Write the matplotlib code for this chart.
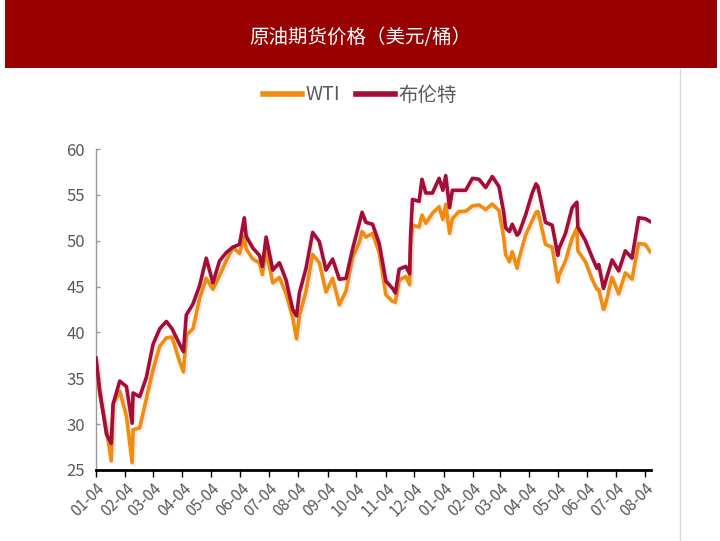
import numpy as np
import pandas as pd
import matplotlib
matplotlib.use("Agg")
import matplotlib.pyplot as plt
import matplotlib.dates as mdates
import matplotlib.patheffects as pe
from matplotlib.patches import Rectangle
from matplotlib.lines import Line2D

plt.rcParams['font.family'] = ['Noto Sans CJK SC', 'DejaVu Sans']

title = "原油期货价格（美元/桶）"
series_names = ["WTI", "布伦特"]

dates = [
    "2016-01-04", "2016-01-08", "2016-01-15", "2016-01-20", "2016-01-22", "2016-01-29",
    "2016-02-05", "2016-02-11", "2016-02-12", "2016-02-19", "2016-02-26", "2016-03-04",
    "2016-03-11", "2016-03-18", "2016-03-24", "2016-04-01", "2016-04-05", "2016-04-08",
    "2016-04-15", "2016-04-22", "2016-04-29", "2016-05-06", "2016-05-13", "2016-05-20",
    "2016-05-27", "2016-06-03", "2016-06-08", "2016-06-10", "2016-06-17", "2016-06-24",
    "2016-06-27", "2016-07-01", "2016-07-08", "2016-07-15", "2016-07-22", "2016-07-29",
    "2016-08-02", "2016-08-05", "2016-08-12", "2016-08-19", "2016-08-26", "2016-09-02",
    "2016-09-09", "2016-09-16", "2016-09-23", "2016-09-30", "2016-10-07", "2016-10-10",
    "2016-10-14", "2016-10-21", "2016-10-28", "2016-11-04", "2016-11-11", "2016-11-14",
    "2016-11-18", "2016-11-25", "2016-11-29", "2016-11-30", "2016-12-02", "2016-12-09",
    "2016-12-12", "2016-12-16", "2016-12-23", "2016-12-30", "2017-01-03", "2017-01-06",
    "2017-01-10", "2017-01-13", "2017-01-20", "2017-01-27", "2017-02-03", "2017-02-10",
    "2017-02-17", "2017-02-24", "2017-03-03", "2017-03-08", "2017-03-10", "2017-03-14",
    "2017-03-17", "2017-03-22", "2017-03-24", "2017-03-31", "2017-04-07", "2017-04-11",
    "2017-04-13", "2017-04-21", "2017-04-28", "2017-05-04", "2017-05-05", "2017-05-12",
    "2017-05-19", "2017-05-24", "2017-05-25", "2017-06-02", "2017-06-09", "2017-06-14",
    "2017-06-16", "2017-06-21", "2017-06-23", "2017-06-30", "2017-07-07", "2017-07-14",
    "2017-07-21", "2017-07-28", "2017-08-04", "2017-08-09",
]

wti = [
    36.8, 33.2, 29.4, 26.0, 32.2, 33.6,
    30.9, 25.8, 29.4, 29.6, 32.8, 35.9,
    38.5, 39.4, 39.5, 36.8, 35.7, 39.7,
    40.4, 43.7, 45.9, 44.7, 46.2, 47.8,
    49.3, 48.6, 50.5, 49.1, 48.0, 47.6,
    46.3, 49.0, 45.4, 46.0, 44.2, 41.6,
    39.3, 41.8, 44.5, 48.5, 47.6, 44.4,
    45.9, 43.0, 44.5, 48.2, 49.8, 51.0,
    50.4, 50.8, 48.7, 44.1, 43.4, 43.3,
    45.7, 46.1, 45.2, 49.4, 51.7, 51.5,
    52.8, 51.9, 53.0, 53.7, 52.3, 54.0,
    50.8, 52.4, 53.2, 53.2, 53.8, 53.9,
    53.4, 54.0, 53.3, 50.3, 48.5, 47.7,
    48.8, 47.0, 48.0, 50.6, 52.2, 53.1,
    53.2, 49.6, 49.3, 45.5, 46.2, 47.8,
    50.3, 51.4, 48.9, 47.7, 45.8, 44.7,
    44.7, 42.5, 43.0, 46.0, 44.2, 46.5,
    45.8, 49.7, 49.6, 48.8,
]

brent = [
    37.2, 33.6, 28.9, 27.9, 32.2, 34.7,
    34.1, 30.1, 33.4, 33.0, 35.1, 38.7,
    40.4, 41.2, 40.4, 38.7, 37.9, 41.9,
    43.1, 45.1, 48.1, 45.4, 47.8, 48.7,
    49.3, 49.6, 52.5, 50.5, 49.2, 48.4,
    47.2, 50.4, 46.8, 47.6, 45.7, 42.5,
    41.8, 44.3, 47.0, 50.9, 49.9, 46.8,
    48.0, 45.8, 45.9, 49.1, 51.9, 53.1,
    52.0, 51.8, 49.7, 45.6, 44.8, 44.3,
    46.9, 47.2, 46.4, 50.5, 54.5, 54.3,
    56.7, 55.2, 55.2, 56.8, 55.5, 57.1,
    53.6, 55.5, 55.5, 55.5, 56.8, 56.7,
    55.8, 57.0, 55.9, 53.1, 51.4, 51.0,
    51.8, 50.6, 50.8, 52.8, 55.2, 56.2,
    55.9, 52.0, 51.7, 48.4, 49.1, 50.8,
    53.6, 54.2, 51.5, 50.0, 48.2, 47.0,
    47.4, 44.8, 45.5, 47.9, 46.7, 48.9,
    48.1, 52.5, 52.4, 52.1,
]

x = pd.to_datetime(dates)

W, H = 720, 541
fig = plt.figure(figsize=(7.2, 5.41), dpi=100)
fig.patch.set_facecolor('white')

# title bar
fig.patches.append(Rectangle((5 / W, 1 - 68 / H), 712 / W, 68 / H, transform=fig.transFigure,
                             facecolor='#990000', edgecolor='none', zorder=0))
fig.text(360 / W, 1 - 37 / H, title, color='white', fontsize=14, ha='center', va='center')
# right border line
fig.add_artist(Line2D([680 / W, 680 / W], [0, 1 - 69 / H], transform=fig.transFigure,
                      color='#d9d9d9', lw=1))

ax = fig.add_axes([96 / W, 1 - 470 / H, (651 - 96) / W, (470 - 149) / H])

shadow = [pe.SimpleLineShadow(offset=(1.5, -1.5), shadow_color='gray', alpha=0.15), pe.Normal()]
ax.plot(x, wti, color='#F28C0F', lw=2.6, label=series_names[0], path_effects=shadow, zorder=2)
ax.plot(x, brent, color='#A50D38', lw=2.6, label=series_names[1], path_effects=shadow, zorder=3)

ax.set_ylim(25, 60)
ax.set_yticks(np.arange(25, 61, 5))
ax.set_xlim(pd.Timestamp("2016-01-04"), pd.Timestamp("2017-08-10"))
ax.xaxis.set_major_locator(mdates.MonthLocator(bymonthday=4))
ax.xaxis.set_major_formatter(mdates.DateFormatter('%m-%d'))

for s in ['top', 'right']:
    ax.spines[s].set_visible(False)
ax.spines['bottom'].set_color('black')
ax.spines['bottom'].set_linewidth(2)
ax.spines['left'].set_color('#999999')
ax.spines['left'].set_linewidth(1)

ax.tick_params(axis='x', direction='out', length=5, width=1, color='black',
               labelsize=11, labelcolor='#595959', pad=2)
ax.tick_params(axis='y', direction='in', length=3, width=1, color='#999999',
               labelsize=12, labelcolor='#595959', pad=8)
for lab in ax.get_xticklabels():
    lab.set_rotation(45)
    lab.set_ha('right')
    lab.set_rotation_mode('anchor')

leg = fig.legend(loc='center', bbox_to_anchor=(360 / W, 1 - 95 / H), ncol=2, frameon=False,
                 fontsize=14, handlelength=2.0, handletextpad=0.2, columnspacing=0.8,
                 labelcolor='#595959')
for h in leg.get_lines():
    h.set_linewidth(4)
    h.set_path_effects([])

fig.savefig("out.png", dpi=100)
